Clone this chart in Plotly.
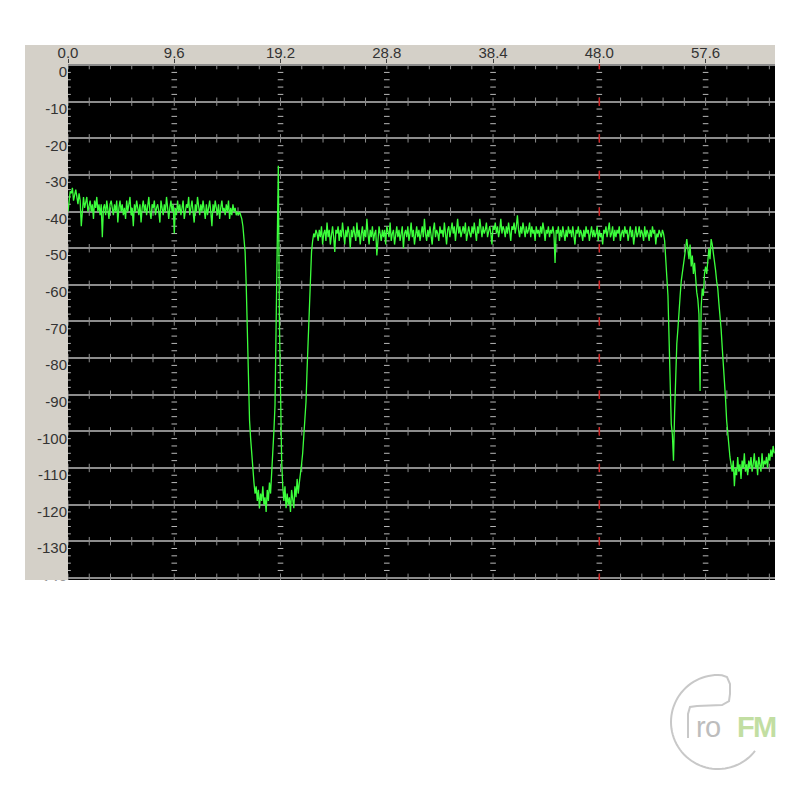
import numpy as np
import plotly.graph_objects as go

# ---------------- data (dB, 0.1 kHz per sample) ----------------
STEP_KHZ = 0.1

mono_db = [  # 0.0 - 15.9 kHz
    -40, -36, -34.5, -35, -33.5, -37, -35, -34, -36, -38,
    -35, -37, -44, -38, -36, -39, -37, -36, -40, -38,
    -37, -40, -38, -42, -37, -39, -36, -40, -38, -41,
    -38, -47, -39, -38, -41, -37, -40, -42, -38, -37,
    -39, -41, -38, -40, -37, -43, -39, -37, -40, -38,
    -41, -39, -42, -37, -40, -38, -36, -41, -39, -44,
    -38, -40, -37, -39, -41, -38, -43, -39, -37, -40,
    -38, -41, -39, -36, -40, -42, -38, -39, -37, -41,
    -39, -38, -40, -43, -37, -39, -41, -38, -40, -36,
    -39, -42, -39, -37, -40, -38, -46, -39, -41, -37,
    -40, -38, -41, -39, -37, -42, -40, -38, -39, -36,
    -41, -39, -37, -40, -43, -38, -40, -36, -39, -41,
    -38, -40, -37, -39, -42, -38, -41, -39, -37, -40,
    -44, -38, -40, -37, -39, -41, -38, -42, -39, -37,
    -40, -39, -41, -38, -40, -37, -42, -39, -41, -38,
    -40, -39, -41, -40, -41, -40, -41, -42, -44, -47,
]

notch_db = [  # 16.0 - 22.4 kHz (gap around the 19 kHz pilot)
    -51, -60, -75, -88, -97, -102, -107, -111, -114, -117,
    -115, -119, -116, -121, -117, -119, -115, -120, -118, -122,
    -116, -119, -114, -117, -112, -106, -100, -93, -75, -45,
    -27.5, -70, -98, -108, -115, -119, -115, -121, -117, -120,
    -118, -122, -116, -119, -121, -115, -118, -113, -117, -114,
    -112, -109, -106, -102, -98, -92, -83, -74, -63, -55,
    -51, -48, -46, -47, -45,
]

stereo_db = [  # 22.5 - 53.9 kHz (L-R sub-band)
    -46, -48, -45, -47, -44, -49, -46, -45, -48, -43,
    -47, -45, -49, -46, -44, -47, -51, -45, -46, -44,
    -48, -45, -47, -43, -46, -49, -45, -47, -44, -46,
    -50, -45, -47, -44, -46, -48, -43, -47, -45, -49,
    -46, -44, -48, -45, -47, -42, -46, -49, -45, -47,
    -44, -48, -46, -45, -52, -47, -44, -46, -48, -45,
    -47, -45, -49, -44, -46, -47, -43, -48, -46, -45,
    -49, -46, -44, -47, -45, -48, -46, -44, -50, -46,
    -45, -47, -44, -48, -46, -43, -47, -45, -49, -46,
    -44, -47, -45, -48, -46, -44, -47, -42, -46, -48,
    -45, -47, -44, -46, -49, -45, -43, -47, -45, -46,
    -48, -44, -46, -45, -47, -43, -46, -49, -45, -44,
    -47, -45, -43, -46, -44, -48, -45, -42, -46, -44,
    -47, -45, -44, -46, -43, -48, -45, -44, -46, -47,
    -44, -46, -43, -45, -48, -44, -46, -42, -45, -47,
    -44, -46, -45, -43, -47, -45, -44, -46, -49, -44,
    -45, -43, -46, -44, -47, -45, -42, -46, -44, -45,
    -47, -44, -46, -43, -45, -48, -44, -45, -43, -46,
    -44, -41, -45, -47, -44, -46, -43, -45, -47, -44,
    -46, -45, -43, -47, -44, -46, -45, -48, -44, -46,
    -45, -47, -44, -46, -43, -45, -48, -45, -46, -44,
    -47, -45, -46, -44, -46, -54, -45, -46, -44, -48,
    -45, -47, -44, -46, -48, -45, -47, -44, -46, -45,
    -47, -44, -46, -49, -45, -46, -44, -47, -45, -46,
    -48, -45, -47, -44, -46, -45, -48, -46, -44, -47,
    -45, -47, -46, -44, -48, -45, -47, -46, -49, -45,
    -46, -44, -47, -45, -43, -47, -46, -44, -48, -45,
    -47, -45, -46, -44, -48, -46, -45, -47, -44, -46,
    -45, -48, -46, -44, -47, -45, -49, -46, -44, -47,
    -46, -44, -47, -45, -46, -48, -44, -47, -45, -46,
    -48, -45, -47, -44, -46, -45, -49, -46, -47, -45,
    -46, -47, -45, -46, -48,
]

rds_db = [  # 54.0 - 59.9 kHz (RDS / 57 kHz region)
    -52, -58, -63, -75, -87, -98, -101, -108, -95, -85,
    -76, -72, -66, -63, -59, -57, -54, -52, -50, -47.5,
    -50, -53, -49, -55, -52, -57, -54, -59, -62, -64,
    -68, -89, -66, -61, -63, -57, -55, -57, -52, -50,
    -53, -47.5, -49, -51, -54, -56, -59, -61, -65, -68,
    -72, -77, -81, -86, -91, -97, -101, -104, -107, -109,
]

floor_db = [  # 60.0 - 63.8 kHz
    -111, -108, -115, -110, -112, -107, -111, -109, -113, -108,
    -110, -106, -111, -109, -112, -108, -110, -107, -111, -109,
    -106, -110, -108, -112, -107, -109, -111, -106, -110, -108,
    -109, -107, -110, -106, -108, -105, -107, -104, -106,
]

x_tick_vals = [0.0, 9.6, 19.2, 28.8, 38.4, 48.0, 57.6]
x_tick_text = ["0.0", "9.6", "19.2", "28.8", "38.4", "48.0", "57.6"]
y_tick_vals = [0, -10, -20, -30, -40, -50, -60, -70, -80, -90, -100, -110, -120, -130, -140]
y_tick_text = [str(v) for v in y_tick_vals]
MINOR_X_STEP = 1.92
MARKER_KHZ = 48.0
X_RANGE = [0, 63.87]
Y_RANGE = [-140.6, 0.3]

level_db = np.array(mono_db + notch_db + stereo_db + rds_db + floor_db, dtype=float)
freq_khz = np.round(np.arange(level_db.size) * STEP_KHZ, 1)

# ---------------- figure ----------------
OFF = 8                      # page body margin
W = H = 792
L, T = 68 - OFF, 64 - OFF
PW, PH = 707, 516
R = W - L - PW
B = H - T - PH


def px(xp, yp):
    """page pixel -> paper coords"""
    return (xp - OFF - L) / PW, (T + PH - (yp - OFF)) / PH


fig = go.Figure()

# crossing tick marks on horizontal grid lines
cx = np.arange(0, X_RANGE[1], MINOR_X_STEP)
gx, gy = np.meshgrid(cx, np.array(y_tick_vals, dtype=float))
fig.add_trace(go.Scatter(
    x=gx.ravel(), y=gy.ravel(), mode="markers", hoverinfo="skip",
    marker=dict(symbol="line-ns", size=6, line=dict(color="#8c8c8c", width=1)),
))

# dashed vertical grid columns at major frequency ticks (every 2 dB)
dash_y = [v for v in range(0, -141, -2) if v % 10 != 0]
dx, dy = np.meshgrid(np.array(x_tick_vals), np.array(dash_y, dtype=float))
fig.add_trace(go.Scatter(
    x=dx.ravel(), y=dy.ravel(), mode="markers", hoverinfo="skip",
    marker=dict(symbol="line-ew", size=4, line=dict(color="#b8b8b8", width=1)),
))

# red marker at 48 kHz
fig.add_trace(go.Scatter(
    x=[MARKER_KHZ] * len(y_tick_vals), y=y_tick_vals, mode="markers", hoverinfo="skip",
    marker=dict(symbol="line-ns", size=6, line=dict(color="#d02020", width=1.5)),
))

# spectrum trace
fig.add_trace(go.Scatter(
    x=freq_khz, y=level_db, mode="lines", hoverinfo="skip",
    line=dict(color="#3cff3c", width=1.3),
))

shapes = []
# grey window frame, then the black plot face
fx0, fy0 = px(25, 580)
fx1, fy1 = px(775, 45)
shapes.append(dict(type="rect", xref="paper", yref="paper", x0=fx0, y0=fy0, x1=fx1, y1=fy1,
                   fillcolor="#d4d0c8", line=dict(width=0), layer="below"))
shapes.append(dict(type="rect", xref="paper", yref="paper", x0=0, y0=0, x1=1, y1=1,
                   fillcolor="black", line=dict(width=0), layer="below"))
# white strip cutting the bottom label (window edge)
wx0, wy0 = px(0, 800)
wx1, wy1 = px(800, 580.5)
shapes.append(dict(type="rect", xref="paper", yref="paper", x0=wx0, y0=wy0, x1=wx1, y1=wy1,
                   fillcolor="white", line=dict(width=0), layer="above"))

# ProFM logo (arc + P)
ccx, ccy, rr = 718, 722, 47
ang = np.radians(np.linspace(90, 322, 60))
pts = [(688, 738), (688, 714), (690, 707), (697, 706), (722, 705), (729, 701), (730, 694),
       (730, 684), (727, 677), (722, 675.3)]
pts += [(ccx + rr * np.cos(a), ccy - rr * np.sin(a)) for a in ang]
path = ""
for i, (a, b) in enumerate(pts):
    X, Y = px(a, b)
    path += ("M" if i == 0 else "L") + f"{X:.5f},{Y:.5f} "
shapes.append(dict(type="path", xref="paper", yref="paper", path=path,
                   line=dict(color="#c8c8c8", width=2), layer="above"))

annotations = []
for ch, xp, col, wt in [("r", 701, "#bdbdbd", 400), ("o", 713, "#bdbdbd", 400),
                        ("F", 746, "#c2dea2", 700), ("M", 765, "#c2dea2", 700)]:
    X, Y = px(xp, 727)
    annotations.append(dict(x=X, y=Y, xref="paper", yref="paper", text=ch, showarrow=False,
                            xanchor="center", yanchor="middle",
                            font=dict(family="Liberation Sans", size=29, color=col, weight=wt)))

fig.update_layout(
    width=W, height=H, margin=dict(l=L, r=R, t=T, b=B),
    paper_bgcolor="white", plot_bgcolor="black", showlegend=False,
    shapes=shapes, annotations=annotations,
    xaxis=dict(range=X_RANGE, side="top", tickvals=x_tick_vals, ticktext=x_tick_text,
               showgrid=False, zeroline=False, ticks="outside", ticklen=4, tickcolor="#404040",
               ticklabelstandoff=-5,
               tickfont=dict(family="Liberation Sans", size=15, color="#333333"),
               showline=False, fixedrange=True),
    yaxis=dict(range=Y_RANGE, tickvals=y_tick_vals, ticktext=y_tick_text,
               showgrid=True, gridcolor="#8c8c8c", gridwidth=1.5, zeroline=False,
               ticks="", ticklabelshift=7, ticklabelstandoff=0,
               tickfont=dict(family="Liberation Sans", size=15, color="#333333"),
               showline=False, fixedrange=True),
)

fig.write_html("out.html")
